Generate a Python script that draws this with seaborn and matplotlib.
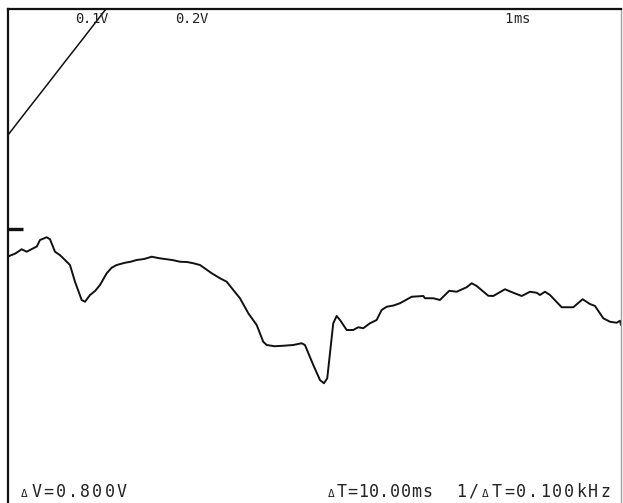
import matplotlib
matplotlib.use("Agg")
import matplotlib.pyplot as plt
import seaborn as sns
import pandas as pd

# Channel 2 trace: time (ms) and voltage (V)
trace_t = [0.00, 0.120, 0.223, 0.305, 0.413, 0.470, 0.522, 0.631, 0.685, 0.767, 0.850, 0.930, 1.011,
           1.093, 1.202, 1.256, 1.338, 1.420, 1.501, 1.610, 1.690, 1.773, 1.908, 2.000, 2.099, 2.220, 2.344,
           2.470, 2.589, 2.700, 2.806, 2.920, 3.023, 3.132, 3.323, 3.458, 3.568, 3.675, 3.784, 3.920,
           4.057, 4.164, 4.220, 4.350, 4.490, 4.654, 4.790, 4.844, 4.980, 5.089, 5.154,
           5.208, 5.264, 5.306, 5.361, 5.416, 5.525, 5.632, 5.714, 5.795, 5.905,
           6.014, 6.095, 6.177, 6.290, 6.394, 6.585, 6.775, 6.802, 6.938, 7.046, 7.198,
           7.319, 7.482, 7.564, 7.646, 7.835, 7.916, 8.107, 8.243, 8.380, 8.515,
           8.624, 8.678, 8.760, 8.842, 9.032, 9.222, 9.374, 9.494, 9.576, 9.711,
           9.820, 9.929, 9.984, 10.00]
trace_v = [-0.110, -0.098, -0.081, -0.091, -0.077, -0.070, -0.044, -0.033, -0.041, -0.091, -0.105, -0.124, -0.144,
           -0.211, -0.284, -0.291, -0.264, -0.248, -0.224, -0.177, -0.155, -0.144, -0.135, -0.131, -0.124, -0.120, -0.111,
           -0.117, -0.121, -0.125, -0.131, -0.132, -0.137, -0.144, -0.177, -0.197, -0.211, -0.244, -0.277, -0.337,
           -0.384, -0.451, -0.464, -0.469, -0.467, -0.464, -0.457, -0.464, -0.544, -0.604, -0.617,
           -0.597, -0.471, -0.377, -0.348, -0.364, -0.404, -0.404, -0.393, -0.397, -0.377,
           -0.364, -0.324, -0.311, -0.306, -0.297, -0.271, -0.268, -0.277, -0.277, -0.284, -0.247,
           -0.251, -0.233, -0.217, -0.228, -0.267, -0.268, -0.241, -0.255, -0.268, -0.251,
           -0.255, -0.264, -0.251, -0.264, -0.313, -0.313, -0.281, -0.300, -0.308, -0.357,
           -0.371, -0.375, -0.367, -0.384]

# Channel 1 ramp (runs off the top of the screen)
ramp_t = [0.00, 0.30, 0.60, 0.90, 1.20, 1.50, 1.80]
ramp_v = [0.376, 0.471, 0.565, 0.660, 0.754, 0.849, 0.943]

# Ground reference marker
ground_t = [0.00, 0.24]
ground_v = [0.0, 0.0]

# Screen readouts
top_labels = ["0.1V", "0.2V", "1ms"]
bottom_labels = ["\u0394V=0.800V", "\u0394T=10.00ms", "1/\u0394T=0.100kHz"]

sns.set_style("white")
plt.rcParams["font.family"] = ["DejaVu Sans Mono", "DejaVu Sans"]

W, H = 623, 503
fig = plt.figure(figsize=(W / 100, H / 100), dpi=100)
fig.patch.set_facecolor("white")
ax = fig.add_axes([8 / W, 0.0, 613 / W, 494 / H])
ax.set_facecolor("white")

trace = pd.DataFrame({"t": trace_t, "v": trace_v})
ramp = pd.DataFrame({"t": ramp_t, "v": ramp_v})
sns.lineplot(data=trace, x="t", y="v", ax=ax, color="#111111", lw=1.4,
             estimator=None, sort=False)
sns.lineplot(data=ramp, x="t", y="v", ax=ax, color="#111111", lw=1.1,
             estimator=None, sort=False)
ax.plot(ground_t, ground_v, color="#111111", lw=2.4, solid_capstyle="butt")

ax.set_xlim(0, 10)
ax.set_ylim(-1.096, 0.880)
ax.set_xticks([])
ax.set_yticks([])
ax.set_xlabel("")
ax.set_ylabel("")
for side in ["left", "top"]:
    ax.spines[side].set_color("#111111")
    ax.spines[side].set_linewidth(1.6)
ax.spines["right"].set_color("#a0a0a0")
ax.spines["right"].set_linewidth(1.0)
ax.spines["bottom"].set_visible(False)


def spaced_text(text, x0, y, pitch, size, small_size):
    """Place characters on a fixed pitch like a scope's character generator."""
    x = x0
    for ch in text:
        fs = small_size if ch == "\u0394" else size
        fig.text(x / W, 1 - y / H, ch, fontsize=fs, color="#222222",
                 ha="center", va="baseline")
        x += pitch


top_x = [79, 179, 509]
for lbl, x in zip(top_labels, top_x):
    spaced_text(lbl, x, 23, 8.4, 10, 8)

bot_x = [24, 331, 461]
bot_pitch = [12.2, 10.7, 12.0]
for lbl, x, p in zip(bottom_labels, bot_x, bot_pitch):
    spaced_text(lbl, x, 497, p, 12, 8)

fig.savefig("out.png", dpi=100, facecolor="white")
